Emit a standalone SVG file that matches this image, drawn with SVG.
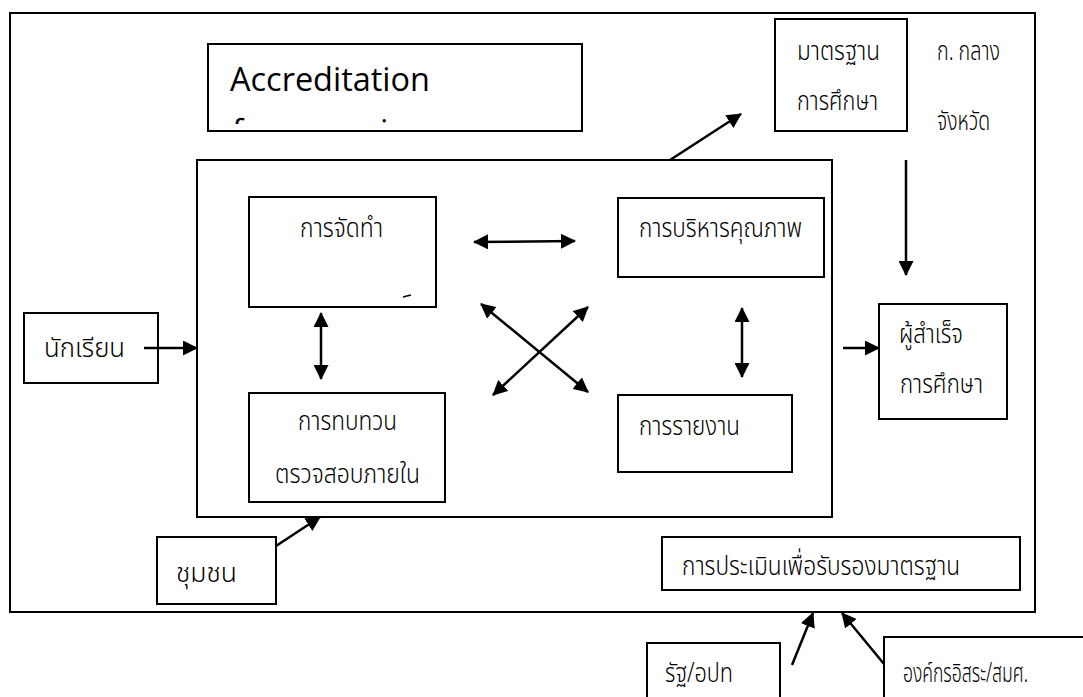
<svg xmlns="http://www.w3.org/2000/svg" width="1083" height="697" viewBox="0 0 1083 697">
  <style>
    .box { fill: #ffffff; stroke: #000000; stroke-width: 2; }
    .frame { fill: none; stroke: #000000; stroke-width: 2; }
    .th { font-family: "Noto Sans Thai", "Noto Sans", "DejaVu Sans", sans-serif; font-size: 27px; font-weight: 300; fill: #000000; }
    .en { font-family: "Open Sans", "Liberation Sans", sans-serif; font-size: 33px; fill: #000000; }
    .link { fill: none; stroke: #000000; stroke-width: 2.5; }
  </style>
  <defs>
    <marker id="head" viewBox="0 0 15 15" refX="14" refY="7.5" markerWidth="15" markerHeight="15" markerUnits="userSpaceOnUse" orient="auto-start-reverse">
      <path d="M0,0 L15,7.5 L0,15 Z" fill="#000000"/>
    </marker>
    <clipPath id="clip-acc">
      <rect x="210" y="46" width="370" height="78"/>
    </clipPath>
  </defs>
  <rect width="1083" height="697" fill="#ffffff"/>

  <!-- outer frame and central process area -->
  <rect id="frame" class="frame" x="10" y="13" width="1025" height="599"/>
  <rect id="process-area" class="frame" x="197" y="160" width="635" height="357"/>

  <g id="accreditation">
    <rect class="box" x="208" y="44" width="374" height="87"/>
    <text class="en" clip-path="url(#clip-acc)"><tspan x="230" y="91" textLength="200" lengthAdjust="spacingAndGlyphs">Accreditation</tspan><tspan x="232" y="143">f</tspan><tspan x="380" y="143">i</tspan></text>
  </g>

  <g id="standard">
    <rect class="box" x="775" y="19" width="132" height="112"/>
    <text class="th" x="797" y="60" textLength="83" lengthAdjust="spacingAndGlyphs">มาตรฐาน</text>
    <text class="th" x="797" y="110" textLength="81" lengthAdjust="spacingAndGlyphs">การศึกษา</text>
  </g>

  <g id="central-provincial">
    <text class="th" x="937" y="60" textLength="63" lengthAdjust="spacingAndGlyphs">ก. กลาง</text>
    <text class="th" x="937" y="130" textLength="53" lengthAdjust="spacingAndGlyphs">จังหวัด</text>
  </g>

  <g id="making">
    <rect class="box" x="249" y="197" width="187" height="110"/>
    <text class="th" x="300" y="237" textLength="83" lengthAdjust="spacingAndGlyphs">การจัดทำ</text>
    <path d="M403,297 L411,295" stroke="#000000" stroke-width="1.5"/>
  </g>

  <g id="quality-management">
    <rect class="box" x="618" y="198" width="206" height="79"/>
    <text class="th" x="639" y="237" textLength="163" lengthAdjust="spacingAndGlyphs">การบริหารคุณภาพ</text>
  </g>

  <g id="review">
    <rect class="box" x="249" y="393" width="196" height="109"/>
    <text class="th" x="298" y="430" textLength="99" lengthAdjust="spacingAndGlyphs">การทบทวน</text>
    <text class="th" x="275" y="483" textLength="145" lengthAdjust="spacingAndGlyphs">ตรวจสอบภายใน</text>
  </g>

  <g id="report">
    <rect class="box" x="618" y="395" width="174" height="77"/>
    <text class="th" x="639" y="435" textLength="101" lengthAdjust="spacingAndGlyphs">การรายงาน</text>
  </g>

  <g id="students">
    <rect class="box" x="24" y="313" width="134" height="70"/>
    <text class="th" x="44" y="357" textLength="81" lengthAdjust="spacingAndGlyphs">นักเรียน</text>
  </g>

  <g id="community">
    <rect class="box" x="157" y="537" width="119" height="67"/>
    <text class="th" x="176" y="582" textLength="61" lengthAdjust="spacingAndGlyphs">ชุมชน</text>
  </g>

  <g id="graduates">
    <rect class="box" x="879" y="304" width="128" height="115"/>
    <text class="th" x="899" y="343" textLength="64" lengthAdjust="spacingAndGlyphs">ผู้สำเร็จ</text>
    <text class="th" x="900" y="393" textLength="83" lengthAdjust="spacingAndGlyphs">การศึกษา</text>
  </g>

  <g id="certification">
    <rect class="box" x="662" y="537" width="358" height="53"/>
    <text class="th" x="682" y="575" textLength="278" lengthAdjust="spacingAndGlyphs">การประเมินเพื่อรับรองมาตรฐาน</text>
  </g>

  <g id="state">
    <rect class="box" x="647" y="643" width="133" height="60"/>
    <text class="th" x="665" y="682" textLength="68" lengthAdjust="spacingAndGlyphs">รัฐ/อปท</text>
  </g>

  <g id="independent-org">
    <rect class="box" x="884" y="637" width="210" height="66"/>
    <text class="th" x="903" y="682" textLength="125" lengthAdjust="spacingAndGlyphs">องค์กรอิสระ/สมศ.</text>
  </g>

  <g id="connectors">
    <line class="link" x1="670" y1="160" x2="741" y2="114" marker-end="url(#head)"/>
    <line class="link" x1="906" y1="160" x2="906" y2="275" marker-end="url(#head)"/>
    <line class="link" x1="843" y1="348" x2="879" y2="348" marker-end="url(#head)"/>
    <line class="link" x1="144" y1="348" x2="197" y2="348" marker-end="url(#head)"/>
    <line class="link" x1="276" y1="546" x2="320" y2="517" marker-end="url(#head)"/>
    <line class="link" x1="474" y1="242" x2="575" y2="241" marker-start="url(#head)" marker-end="url(#head)"/>
    <line class="link" x1="321" y1="313" x2="321" y2="379" marker-start="url(#head)" marker-end="url(#head)"/>
    <line class="link" x1="742" y1="308" x2="742" y2="377" marker-start="url(#head)" marker-end="url(#head)"/>
    <line class="link" x1="481" y1="304" x2="588" y2="392" marker-start="url(#head)" marker-end="url(#head)"/>
    <line class="link" x1="493" y1="395" x2="588" y2="307" marker-start="url(#head)" marker-end="url(#head)"/>
    <line class="link" x1="792" y1="665" x2="813" y2="613" marker-end="url(#head)"/>
    <line class="link" x1="884" y1="664" x2="842" y2="613" marker-end="url(#head)"/>
  </g>
</svg>
